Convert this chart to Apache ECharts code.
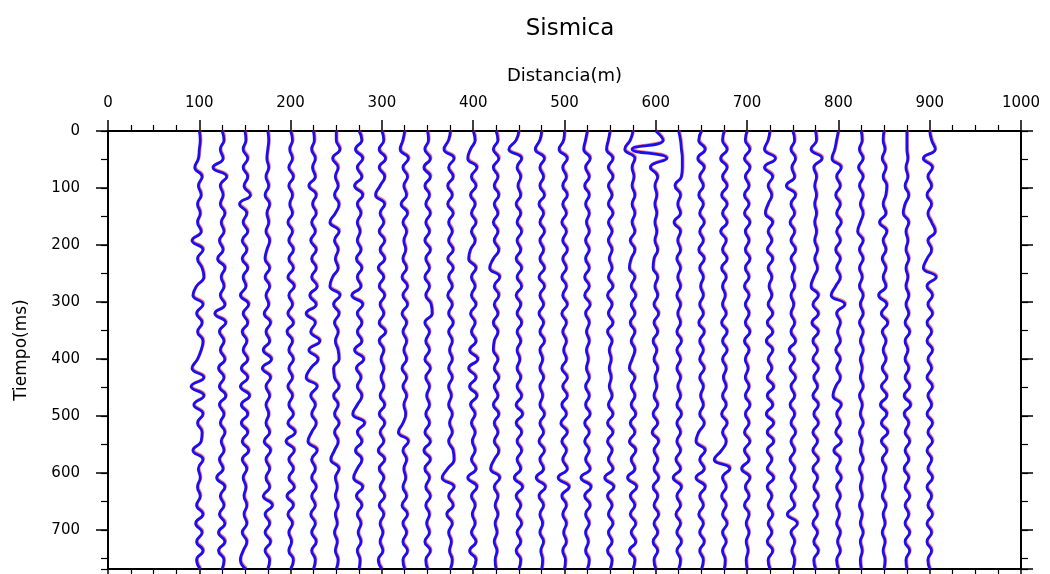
<!DOCTYPE html>
<html><head><meta charset="utf-8">
<script src="https://cdn.jsdelivr.net/npm/echarts@6/dist/echarts.min.js"></script>
<style>html,body{margin:0;padding:0;background:#fff}#c{width:1050px;height:574px}</style>
</head><body><div id="c"></div>
<script>
const TITLE = 'Sismica';
const X_NAME = 'Distancia(m)';
const Y_NAME = 'Tiempo(ms)';

// sample times (ms) of every trace
const TIME_MS = [0,16,32,48,64,80,96,112,128,144,160,176,192,208,224,240,256,272,288,304,320,336,352,368,384,400,416,432,448,464,480,496,512,528,544,560,576,592,608,624,640,656,672,688,704,720,736,752,768];
// trace positions (m)
const OFFSETS_M = [100,125,150,175,200,225,250,275,300,325,350,375,400,425,450,475,500,525,550,575,600,625,650,675,700,725,750,775,800,825,850,875,900];

// horizontal deflection of each trace (m), one value per sample time
const trace100 = [0,1,0,-1,-5,3,-1,2,-2,1,-2,2,-8,4,-2,3,5,-3,-7,4,-3,3,-2,4,2,-2,-8,5,-9,5,-6,4,-2,3,2,-7,4,-1,1,-2,1,-3,4,-4,3,-3,4,-3,1];
const trace125 = [0,2,-2,1,-10,5,-2,1,-2,3,-1,2,-3,1,-5,3,-1,2,-2,3,-8,4,-3,2,-2,3,-4,2,-3,4,-3,2,-2,3,-1,2,-3,1,-6,3,-2,2,-3,3,-4,3,-4,2,0];
const trace150 = [0,1,-2,3,-2,3,-1,6,-6,2,-2,3,-3,2,-3,3,-2,1,-5,4,-2,3,-3,2,-2,3,-4,3,-5,5,-4,3,-4,3,-3,4,-3,2,-2,1,-1,2,-1,2,-3,2,-2,-5,1];
const trace175 = [0,1,0,-1,1,-2,1,-3,2,-1,1,-2,2,-1,-3,2,-3,2,-2,1,-4,3,-2,2,-5,4,-6,3,-2,2,-2,1,-2,2,-4,3,-2,2,-2,2,-5,5,-3,2,-3,3,-3,2,0];
const trace200 = [0,2,-1,2,-2,3,-2,2,-1,2,-3,2,-2,3,-2,3,-3,4,-2,2,-3,3,-4,2,-2,3,-2,2,-3,2,-2,3,-3,5,-5,4,-2,3,-2,4,-4,3,-3,2,-2,1,-2,3,0];
const trace225 = [0,1,-2,2,-1,2,-5,3,-1,3,-2,2,-3,3,-2,3,-2,4,-4,3,-8,2,-3,7,-5,5,-3,-8,4,-3,2,-2,3,-2,-6,4,-2,2,-2,3,-2,2,-3,2,-2,3,-2,2,0];
const trace250 = [0,0,4,-4,2,-1,2,-2,3,-1,-7,3,-2,2,-1,2,-4,-7,4,-3,3,-2,2,-1,2,3,-3,-2,3,-3,2,-2,3,-2,2,-2,-6,3,-1,1,-1,2,-1,1,-2,1,-1,2,0];
const trace275 = [0,3,-4,4,-2,3,-5,4,-2,2,-2,1,-2,2,-3,3,-2,2,-8,4,-2,3,-2,3,-5,5,-3,2,-2,3,-2,-7,6,-2,3,-4,3,-2,-6,4,-3,3,-2,2,-1,2,-2,1,0];
const trace300 = [0,2,-3,4,-3,3,-2,-7,3,-2,2,-3,3,-2,3,-4,2,-3,3,-2,2,-3,4,-3,2,-1,2,-1,2,-2,3,-3,3,-2,2,-4,3,-3,2,-2,3,-3,2,-2,1,-2,1,-4,0];
const trace325 = [0,-2,-5,4,-2,3,-1,2,-4,3,-2,2,-1,1,-2,2,-3,3,-2,3,-3,2,-2,2,-1,2,-3,2,-2,2,-1,1,-2,-7,4,-2,2,-1,1,-2,2,-3,3,-2,2,-2,3,-2,0];
const trace350 = [0,1,-3,3,-4,3,-3,2,-2,3,-2,2,-3,3,-2,2,-3,2,-2,4,5,-3,2,-2,2,-3,3,-2,2,-1,2,-2,2,-3,3,-4,3,-3,2,-2,3,-2,2,-1,2,-3,3,-2,0];
const trace375 = [0,-2,-7,4,-2,3,-3,2,-3,3,-2,2,-2,3,-3,3,-2,2,-3,2,-2,3,-2,2,-1,2,-2,2,-2,1,-2,2,-1,2,-2,3,4,-3,-9,4,-2,3,-4,2,-2,1,-1,2,0];
const trace400 = [0,2,-3,-6,4,-2,3,-3,2,-2,3,-2,2,-3,-5,3,-2,2,-2,3,-3,2,-2,3,-4,5,-5,3,-4,4,-3,2,-2,2,-1,2,-2,3,-6,4,-2,2,-1,2,-2,3,-4,3,0];
const trace425 = [0,2,-3,3,-3,2,-2,3,-2,2,-3,2,-2,3,-3,-7,4,-2,3,-2,2,-3,2,-2,-3,2,-2,3,-2,2,-3,3,-2,2,-2,3,-2,-6,4,-2,2,-1,2,-1,1,-2,1,-1,0];
const trace450 = [0,-3,-11,3,-2,2,-1,2,-3,2,-2,3,-2,2,-3,3,-2,3,-3,2,-2,3,-2,2,-2,1,-2,2,-2,3,-3,4,-3,3,-2,3,-2,2,-5,4,-3,2,-2,3,-2,2,-3,2,0];
const trace475 = [0,-2,-7,3,-2,2,-2,3,-3,2,-2,3,-2,2,-2,3,-3,3,-2,2,-3,2,-2,3,-2,1,-2,2,-2,1,-2,3,-2,2,-3,3,-2,2,-6,4,-3,2,-2,1,-2,2,-1,1,0];
const trace500 = [0,-1,-6,3,-2,2,-2,3,-2,2,-3,2,-2,3,-2,2,-3,2,-2,3,-3,2,-2,2,-1,2,-3,3,-2,3,-3,2,-4,3,-3,2,-2,3,-7,5,-3,2,-2,2,-1,2,-2,1,0];
const trace525 = [0,-2,-4,3,-2,2,-3,2,-2,2,-1,2,-2,2,-2,2,-3,2,-3,3,-2,2,-1,2,-1,1,-1,2,-2,2,-2,3,-3,2,-3,2,-2,3,-7,4,-3,3,-2,2,-2,1,-2,2,0];
const trace550 = [0,-2,-4,3,-2,3,-2,2,-2,3,-2,2,-2,2,-1,2,-2,3,-3,2,-2,3,-3,2,-1,1,-1,1,-1,2,-2,3,-3,3,-3,2,-2,3,-6,4,-3,2,-2,3,-2,2,-3,2,0];
const trace575 = [0,-3,-9,2,-1,1,-1,2,-1,2,-1,2,-3,2,-2,-4,2,-2,3,-2,2,-3,2,-2,2,-1,-4,2,-2,2,-2,3,-3,2,-4,3,-2,2,-6,4,-3,2,-3,3,-2,3,-4,2,0];
const trace600 = [0,8,-26,12,-6,2,-1,1,-1,1,-1,1,-1,2,-2,-3,2,-1,2,-2,3,-2,2,-3,1,-2,2,-1,1,-2,2,-3,2,-4,3,-2,2,-2,3,-3,2,-2,3,-2,2,-3,2,-2,0];
const trace625 = [0,2,3,4,4,3,-4,2,-1,2,-5,2,-1,2,-2,2,-1,2,-2,2,-1,2,-2,3,-2,2,-2,2,-1,2,-2,3,-2,2,-2,2,-3,2,-6,3,-2,2,-3,2,-2,3,-2,2,0];
const trace650 = [0,-3,4,-4,3,-2,2,-3,2,-2,3,-2,2,-3,3,-2,2,-1,2,-2,2,-3,3,-2,2,-2,3,-2,2,-1,2,-2,3,-3,-6,4,-2,3,-6,4,-2,2,-3,2,-2,3,-2,2,0];
const trace675 = [0,-2,3,-4,3,-2,3,-3,3,-2,3,-4,2,-2,3,-3,2,-2,1,-2,2,-3,3,-2,3,-2,2,-1,2,-2,2,-3,3,-2,2,-3,-11,6,-2,2,-3,2,-2,3,-2,2,-2,1,0];
const trace700 = [0,-2,3,-3,3,-2,2,-3,2,-3,3,-2,2,-2,3,-2,2,-3,2,-2,2,-2,3,-3,2,-2,1,-2,2,-2,3,-2,2,-3,3,-3,2,-6,3,-2,2,-3,2,-1,2,-1,1,-1,0];
const trace725 = [0,-2,-6,6,-6,3,-2,2,-2,-5,3,-2,2,-3,3,-2,2,-1,2,-2,3,-3,3,-4,3,-2,2,-3,4,-3,3,-4,4,-3,4,-3,2,-3,4,-3,2,-2,3,-2,2,-3,3,-2,0];
const trace750 = [0,2,-2,3,-1,2,-7,3,-2,2,-3,2,-2,3,-2,2,-1,2,-2,1,-2,2,-2,3,-4,2,-3,3,-2,2,-3,2,-2,3,-2,2,-3,2,-2,3,-2,2,-6,5,-2,2,-1,2,0];
const trace775 = [0,1,-5,7,-2,1,-1,1,-1,1,-1,1,-1,2,-1,2,-2,-5,3,-3,3,-4,3,-3,2,-3,3,-2,2,-3,3,-2,3,-3,2,-3,3,-3,2,-2,3,-2,2,-3,2,-2,3,-2,0];
const trace800 = [0,-2,-4,-7,3,-2,2,-3,2,-2,3,-2,2,-3,2,-2,2,-3,-8,7,-2,2,-1,2,-3,2,-2,2,-3,-6,3,-2,2,-3,3,-5,2,-2,3,-2,2,-2,1,-2,2,-1,2,-2,0];
const trace825 = [0,1,-2,2,-3,2,-2,2,-1,2,-1,-4,2,-2,2,-2,1,-2,2,-1,2,-2,2,-1,2,-1,1,-1,2,-2,1,-1,2,-2,1,-1,2,-2,1,-1,1,-2,1,-1,2,-1,1,-1,0];
const trace850 = [0,-1,1,-2,2,-1,3,2,-1,2,-5,3,-1,2,-2,2,-1,2,-6,3,-3,4,-2,2,-1,2,-2,3,-3,3,-4,3,-3,4,-3,3,-2,2,-1,1,-2,2,-1,1,-2,1,-1,1,0];
const trace875 = [0,0,0,1,-1,1,-2,2,-2,-4,2,-1,1,-1,2,-1,1,-1,2,-1,2,-2,3,-2,1,-2,2,-2,3,-3,4,-3,2,-2,3,-2,2,-3,2,-2,3,-2,2,-2,3,-2,3,-1,0];
const trace900 = [0,2,6,-7,3,-2,2,-3,2,-2,2,6,-2,2,-3,-7,7,-3,3,-2,3,-3,2,-3,3,-2,2,-3,3,-2,2,-3,3,-2,3,-3,2,-2,3,-3,2,-2,3,-3,2,-3,2,-2,0];

const TRACES = [trace100,trace125,trace150,trace175,trace200,trace225,trace250,trace275,trace300,trace325,trace350,trace375,trace400,trace425,trace450,trace475,trace500,trace525,trace550,trace575,trace600,trace625,trace650,trace675,trace700,trace725,trace750,trace775,trace800,trace825,trace850,trace875,trace900];

// axis extents and tick steps
const X_MIN = 0, X_MAX = 1000, X_STEP = 100, X_MINOR_SPLIT = 4;
const Y_MIN = 0, Y_MAX = 768, Y_STEP = 100, Y_MINOR_STEP = 50;

const FONT = 'DejaVu Sans';
const black = '#000';
const lineSt = {color: black, width: 2};

function xAx(pos, labels, extra) {
  return Object.assign({
    type: 'value', position: pos, min: X_MIN, max: X_MAX, interval: X_STEP,
    axisLine: {show: true, onZero: false, lineStyle: lineSt},
    axisTick: {show: true, length: 11, lineStyle: {color: black, width: 1.5}},
    minorTick: {show: true, splitNumber: X_MINOR_SPLIT, length: 6, lineStyle: {color: black, width: 1.2}},
    splitLine: {show: false}, minorSplitLine: {show: false},
    axisLabel: labels ? {show: true, margin: 20, fontFamily: FONT, fontSize: 15, color: black,
                         formatter: v => String(v)} : {show: false}
  }, extra || {});
}
function yAx(pos, minor, labels, extra) {
  return Object.assign({
    type: 'value', position: pos, offset: 0, inverse: true, min: Y_MIN, max: Y_MAX,
    interval: minor ? Y_MINOR_STEP : Y_STEP,
    axisLine: {show: !minor, onZero: false, lineStyle: lineSt},
    axisTick: {show: true, length: minor ? 7 : 12, lineStyle: {color: black, width: minor ? 1.2 : 1.5}},
    splitLine: {show: false},
    axisLabel: labels ? {show: true, margin: 28, showMaxLabel: false,
                         fontFamily: FONT, fontSize: 15, color: black,
                         formatter: v => String(v)} : {show: false}
  }, extra || {});
}

const series = TRACES.map((vals, k) => ({
  type: 'line', xAxisIndex: 0, yAxisIndex: 0, symbol: 'none', smooth: 0.5,
  silent: true, animation: false,
  data: vals.map((d, i) => [OFFSETS_M[k] + d, TIME_MS[i]]),
  lineStyle: {color: '#1a0ff0', width: 2.8, shadowColor: 'rgba(255,20,20,0.55)', shadowBlur: 0,
              shadowOffsetX: 0.8, shadowOffsetY: -0.8}
}));

const chart = echarts.init(document.getElementById('c'), null, {renderer: 'canvas'});
chart.setOption({
  animation: false,
  backgroundColor: '#fff',
  title: {text: TITLE, left: 565, textAlign: 'center', top: 13,
          textStyle: {fontFamily: FONT, fontSize: 23, fontWeight: 'normal', color: black}},
  grid: {left: 108, right: 29, top: 131, bottom: 5, containLabel: false},
  xAxis: [
    xAx('top', true, {name: X_NAME, nameLocation: 'middle', nameGap: 46,
        nameTextStyle: {fontFamily: FONT, fontSize: 18, color: black}}),
    xAx('bottom', false)
  ],
  yAxis: [
    yAx('left', false, true, {name: Y_NAME, nameLocation: 'middle', nameGap: 78, nameRotate: 90,
        nameTextStyle: {fontFamily: FONT, fontSize: 17, color: black}}),
    yAx('left', true, false),
    yAx('right', false, false),
    yAx('right', true, false)
  ],
  series: series
});
</script></body></html>
